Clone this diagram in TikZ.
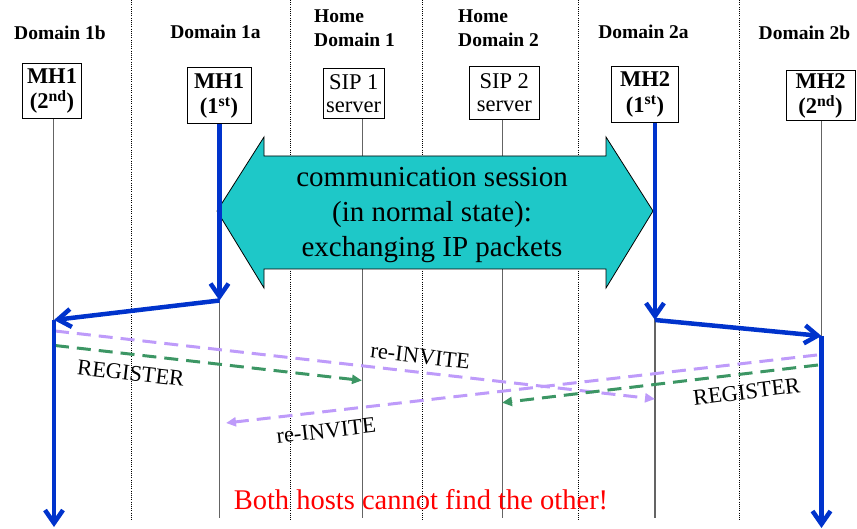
\documentclass[tikz,border=0pt]{standalone}
\usepackage{fontspec}
\setmainfont{Liberation Serif}
\usetikzlibrary{arrows.meta}

\definecolor{handblue}{RGB}{0,51,204}
\definecolor{sessioncyan}{RGB}{30,200,200}
\definecolor{invitepurple}{RGB}{190,155,250}
\definecolor{regreen}{RGB}{60,150,100}
\definecolor{lifegray}{RGB}{100,100,100}

\begin{document}
\begin{tikzpicture}
	[x=1pt,y=-1pt,
	hostbox/.style={draw,line width=1pt,inner sep=0pt,align=center,font=\fontsize{22.5}{25.5}\selectfont\bfseries},
	serverbox/.style={hostbox,font=\fontsize{22.5}{23}\selectfont},
	domainlabel/.style={inner sep=0pt,font=\fontsize{19.5}{24}\selectfont\bfseries},
	divider/.style={line width=0.9pt,dash pattern=on 1pt off 1.2pt},
	lifeline/.style={lifegray,line width=1.2pt},
	handover/.style={handblue,line width=4.5pt,-{Straight Barb[length=13pt,width=18pt]}},
	invite/.style={invitepurple,line width=3pt,dash pattern=on 14pt off 8pt,-{Triangle[length=10pt,width=9pt]}},
	register/.style={regreen,line width=3pt,dash pattern=on 14pt off 8pt,-{Triangle[length=10pt,width=9pt]}},
	msg/.style={inner sep=0pt,anchor=base,font=\fontsize{22.5}{22.5}\selectfont}]
	\useasboundingbox (0,0) rectangle (857,529);

	% domain borders
	\foreach \x in {131.7,290,422.7,578,739.7}
	\draw[divider] (\x,0) -- (\x,520);

	% domains
	\node[domainlabel,anchor=base] (dAb) at (60,40) {Domain 1b};
	\node[domainlabel,anchor=base] (dAa) at (215.5,39) {Domain 1a};
	\node[domainlabel,align=left,anchor=south west] (homeA) at (314,47) {Home\\Domain 1};
	\node[domainlabel,align=left,anchor=south west] (homeB) at (458,47) {Home\\Domain 2};
	\node[domainlabel,anchor=base] (dBa) at (643.5,38.5) {Domain 2a};
	\node[domainlabel,anchor=base] (dBb) at (804.5,39.5) {Domain 2b};

	% hosts and servers
	\node[hostbox,minimum width=59.5,minimum height=55] (mhAb) at (52,91) {MH1\\(2\textsuperscript{nd})};
	\node[hostbox,minimum width=64,minimum height=56] (mhAa) at (219,96) {MH1\\(1\textsuperscript{st})};
	\node[serverbox,minimum width=61,minimum height=50.5] (sipA) at (353.7,93.5) {SIP 1\\server};
	\node[serverbox,minimum width=70,minimum height=53] (sipB) at (504.3,92.7) {SIP 2\\server};
	\node[hostbox,minimum width=66.5,minimum height=56.5] (mhBa) at (645,94.3) {MH2\\(1\textsuperscript{st})};
	\node[hostbox,minimum width=69,minimum height=50] (mhBb) at (820.5,96) {MH2\\(2\textsuperscript{nd})};

	\foreach \n/\x in {mhAb/53.5,mhAa/219.5,sipA/362.3,sipB/502.7,mhBa/655,mhBb/821.5}
	\draw[lifeline] (\x,0 |- \n.south) -- (\x,518);

	% session
	\draw[fill=sessioncyan,line width=0.8pt] (217,211) -- (264,137) -- (264,156) -- (606,156) -- (606,137)
		-- (653,211) -- (606,288) -- (606,269) -- (264,269) -- (264,288) -- cycle;
	\node[align=center,inner sep=0pt,font=\fontsize{29}{35}\selectfont] (session) at (432,215.3)
		{communication session\\(in normal state):\\exchanging IP packets};

	% signalling
	\coordinate (invA1) at (55,331);
	\coordinate (invA2) at (655,399);
	\coordinate (regA1) at (55,345.5);
	\coordinate (regA2) at (362,380.5);
	\coordinate (invB1) at (817,355);
	\coordinate (invB2) at (226,423);
	\coordinate (regB1) at (818,365);
	\coordinate (regB2) at (502,402.7);

	\foreach \from/\to/\kind in {invA1/invA2/invite,regA1/regA2/register,invB1/invB2/invite,regB1/regB2/register}
	\draw[\kind] (\from) -- (\to);

	% movement of the hosts
	\coordinate (hoA1) at (219.5,300.5);
	\coordinate (hoA2) at (54,320);
	\coordinate (hoA3) at (54,527);
	\coordinate (hoB1) at (655,320);
	\coordinate (hoB2) at (821.5,336);
	\coordinate (hoB3) at (821.5,528);

	\draw[handover] (219.5,0 |- mhAa.south) -- (hoA1);
	\draw[handover] (655,0 |- mhBa.south) -- (hoB1);
	\foreach \from/\to in {hoA1/hoA2,hoA2/hoA3,hoB1/hoB2,hoB2/hoB3}
	\draw[handover] (\from) -- (\to);

	\node[msg,rotate=-6.45] (lblInvA) at (419.5,363.5) {re-INVITE};
	\node[msg,rotate=-6.5] (lblRegA) at (130,380.5) {REGISTER};
	\node[msg,rotate=6.6] (lblInvB) at (327,438) {re-INVITE};
	\node[msg,rotate=7] (lblRegB) at (747.5,399) {REGISTER};

	\node[inner sep=0pt,anchor=base,text=red,font=\fontsize{28.5}{30}\selectfont] (lost) at (421,509)
		{Both hosts cannot find the other!};
\end{tikzpicture}
\end{document}
